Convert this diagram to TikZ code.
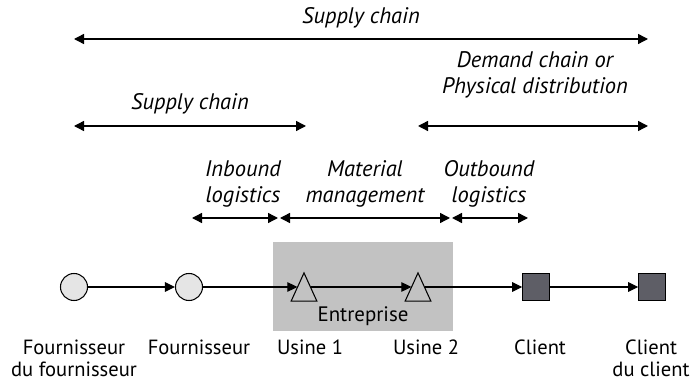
\documentclass[tikz,border=0pt]{standalone}
\usepackage{fontspec}
\setmainfont{PT Sans}
\usetikzlibrary{arrows.meta}
\definecolor{LightGrey}{gray}{0.9}
\definecolor{BoxGrey}{gray}{0.76}
\definecolor{DarkGrey}{rgb}{0.37,0.37,0.4}
\tikzset{
  span/.style={{Triangle[length=2mm,width=2mm]}-{Triangle[length=2mm,width=2mm]},line width=.8pt},
  flow/.style={-{Triangle[length=2mm,width=1.9mm]},line width=.6pt},
  spanlabel/.style={font=\fontsize{12.8}{14.8}\selectfont\itshape,align=center},
  placelabel/.style={font=\fontsize{11.7}{12.6}\selectfont,align=center,anchor=north},
  supplier/.style={circle,draw,line width=.6pt,fill=LightGrey,minimum size=5.4mm,inner sep=0},
  plant/.style={minimum width=2.5mm,minimum height=5.5mm,inner sep=0},
  customer/.style={draw,line width=.6pt,fill=DarkGrey,minimum size=5.3mm,inner sep=0}
}
\begin{document}
\begin{tikzpicture}[x=.2mm,y=-.2mm]
\useasboundingbox (0,0) rectangle (694,382);

% the firm
\fill[BoxGrey] (273,242) rectangle (453,331);
\node[font=\fontsize{11.9}{14}\selectfont] (firm) at (363,316) {Entreprise};

% places along the chain
\node[supplier] (fsup) at (74,287) {};
\node[supplier] (sup) at (189,287) {};
\node[plant] (pl1) at (304,287) {};
\node[plant] (pl2) at (418,287) {};
\node[customer] (cli) at (536,287) {};
\node[customer] (clicli) at (652,287) {};
\foreach \p in {pl1,pl2}
  \draw[line width=.6pt] ([xshift=-1.25mm]\p.south west) -- ([xshift=1.25mm]\p.south east) -- (\p.north) -- cycle;

\draw[flow] (fsup) -- (sup);
\draw[flow] (sup) -- (pl1);
\draw[flow] (pl1) -- (pl2);
\draw[flow] (pl2) -- (cli);
\draw[flow] (cli) -- (clicli);

\node[placelabel] (lfsup) at (74,334) {Fournisseur\\du fournisseur};
\node[placelabel] (lsup) at (199,334) {Fournisseur};
\node[placelabel] (lpl1) at (310,334) {Usine 1};
\node[placelabel] (lpl2) at (426,334) {Usine 2};
\node[placelabel] (lcli) at (540,334) {Client};
\node[placelabel] (lclicli) at (651,334) {Client\\du client};

% spans
\coordinate (s1) at (74,39);
\coordinate (s2) at (648,39);
\draw[span] (s1) -- (s2);
\node[spanlabel] (whole) at (361,18) {Supply chain};

\coordinate (u1) at (74,126);
\coordinate (u2) at (306,126);
\draw[span] (u1) -- (u2);
\node[spanlabel] (upstream) at (190,104) {Supply chain};

\coordinate (d1) at (418,126);
\coordinate (d2) at (648,126);
\draw[span] (d1) -- (d2);
\node[spanlabel] (downstream) at (535,75) {Demand chain or\\Physical distribution};

\coordinate (i1) at (192,218);
\coordinate (i2) at (278,218);
\coordinate (m2) at (450,218);
\coordinate (o2) at (528,218);
\draw[span] (i1) -- (i2);
\draw[span] ([xshift=.4mm]i2) -- (m2);
\draw[span] ([xshift=.4mm]m2) -- (o2);
\node[spanlabel] (inbound) at (243,184) {Inbound\\logistics};
\node[spanlabel] (material) at (365,184) {Material\\management};
\node[spanlabel] (outbound) at (489,184) {Outbound\\logistics};

\end{tikzpicture}
\end{document}
